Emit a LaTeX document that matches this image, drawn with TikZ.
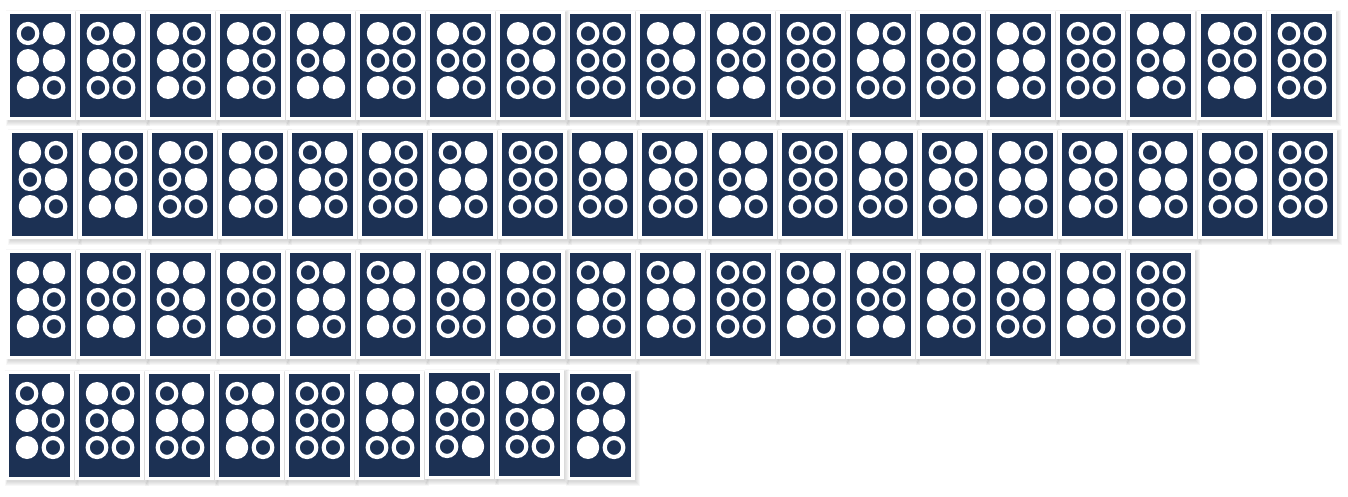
\documentclass[tikz,border=0pt]{standalone}

\definecolor{cardblue}{HTML}{1C3154}

\tikzset{
  cardface/.style={fill=cardblue},
  cardframe/.style={fill=white},
  cardshadow/.style={fill=black,fill opacity=0.03},
  fulldot/.style={fill=white,x radius=11.2pt,y radius=11.5pt},
  ringdot/.style={draw=white,line width=4.2pt,x radius=9.3pt,y radius=9.5pt}
}

\newcommand{\celldot}[3]{%
  \ifnum#3=1 \path[fulldot] (#1,#2) circle;\else \path[ringdot] (#1,#2) circle;\fi}

\newcommand{\brailledots}[6]{%
  \celldot{18}{19.5}{#1}\celldot{44}{19.5}{#2}%
  \celldot{18}{46.5}{#3}\celldot{44}{46.5}{#4}%
  \celldot{18}{73.5}{#5}\celldot{44}{73.5}{#6}}

\begin{document}
\begin{tikzpicture}[x=1pt,y=-1pt]
  \useasboundingbox (0,0) rectangle (1348,496);

  \foreach \cx/\cy/\code in {
    570/14/000000, 640/14/110100, 710/14/100011, 780/14/000000, 850/14/101100, 920/14/100000,
    990/14/101110, 1060/14/000000, 1130/14/110110, 1201/14/100011, 1271/14/000000,
    10/14/011110, 80/14/011000, 150/14/101010, 220/14/101010, 290/14/110111, 360/14/100010,
    430/14/100010, 500/14/100100,
    572/133/110100, 642/133/011000, 712/133/110110, 782/133/000000, 852/133/111000, 922/133/011001,
    992/133/101110, 1062/133/011010, 1132/133/011110, 1202/133/100100, 1272/133/000000,
    12/133/100110, 82/133/101011, 152/133/100100, 222/133/101110, 292/133/011010, 362/133/100000,
    432/133/011110, 502/133/000000,
    570/253/011010, 640/253/011110, 710/253/000000, 780/253/011010, 850/253/100011, 920/253/111010,
    990/253/100100, 1060/253/101110, 1130/253/000000,
    10/253/111010, 80/253/100011, 150/253/110110, 220/253/100010, 290/253/011110, 360/253/011110,
    430/253/100100, 500/253/100010,
    570/374/011110,
    9/374/011010, 79/374/100100, 149/374/011100, 219/374/011110, 289/374/000000, 359/374/111100,
    429/373/100001, 499/373/100100}
  {
    \begin{scope}[shift={(\cx,\cy)}]
      \foreach \spread in {4,3,2,1,0}
        \fill[cardshadow] (-2-0.4*\spread,-2-0.4*\spread) rectangle (66+\spread,108+\spread);
      \fill[cardframe] (-4,-3) rectangle (65,106);
      \fill[cardface] (0,0) rectangle (61,103);
      \expandafter\brailledots\code
    \end{scope}
  }
\end{tikzpicture}
\end{document}
